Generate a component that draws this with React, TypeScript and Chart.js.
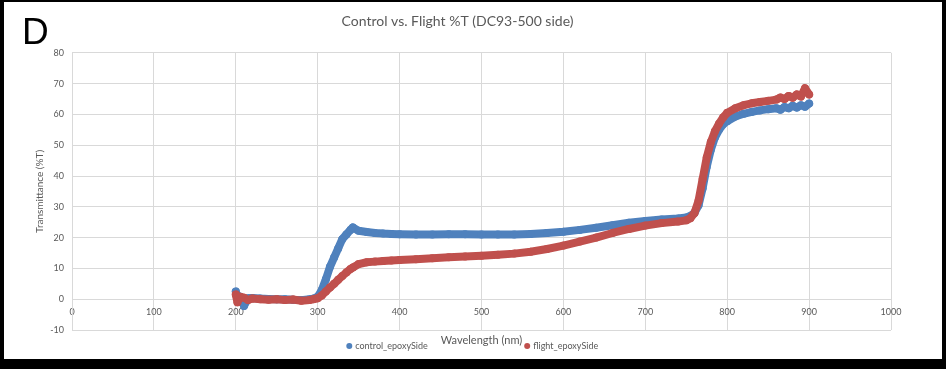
import { useEffect, useRef } from "react";
import { Chart, registerables } from "chart.js";

Chart.register(...registerables);

// ---------- data ----------
const wavelengths = [
  200, 202, 205, 210, 215, 220, 230, 240, 250, 260, 270, 280, 290, 295, 300, 305, 310, 315, 320, 325,
  330, 335, 340, 343, 350, 360, 370, 380, 390, 400, 420, 440, 460, 480, 500, 520, 540, 560, 580, 600,
  620, 640, 660, 680, 700, 720, 740, 750, 755, 760, 765, 770, 775, 780, 785, 790, 795, 800, 810, 820,
  830, 840, 850, 860, 865, 870, 875, 880, 885, 890, 895, 900,
];

const controlValues = [
  2.5, 0.5, 0.8, -2.2, 0.3, 0.4, 0.2, 0.1, 0.0, 0.0, -0.2, -0.3, 0.0, 0.2, 0.8, 3.0, 6.5, 10.5, 13.5, 16.5,
  19.5, 21.0, 22.5, 23.3, 22.2, 21.8, 21.5, 21.3, 21.2, 21.1, 21.0, 21.0, 21.1, 21.1, 21.0, 21.0, 21.0, 21.2, 21.5, 21.9,
  22.5, 23.2, 24.0, 24.8, 25.4, 25.9, 26.2, 26.5, 27.0, 28.0, 30.5, 36.0, 43.0, 48.5, 52.5, 55.0, 56.8, 57.8, 59.3, 60.2,
  60.8, 61.3, 61.7, 62.0, 61.5, 62.4, 62.0, 62.8, 62.2, 63.0, 62.5, 63.5,
];

const flightValues = [
  1.5, -1.0, 0.8, 0.5, -0.3, 0.2, 0.0, -0.2, 0.0, -0.3, -0.1, -0.5, -0.3, 0.0, 0.3, 1.2, 2.5, 3.8, 5.0, 6.3,
  7.5, 8.7, 9.8, 10.3, 11.4, 12.0, 12.2, 12.4, 12.6, 12.7, 13.0, 13.3, 13.6, 13.9, 14.1, 14.4, 14.8, 15.4, 16.3, 17.4,
  18.7, 20.0, 21.5, 22.8, 23.9, 24.7, 25.2, 25.6, 26.3, 28.0, 32.0, 39.0, 46.0, 51.0, 54.5, 57.0, 59.0, 60.5, 62.0, 63.0,
  63.6, 64.0, 64.4, 64.8, 65.5, 65.0, 66.0, 65.4, 66.5, 65.8, 68.5, 66.5,
];

const seriesNames = ["control_epoxySide", "flight_epoxySide"];
const seriesColors = ["#4F81BD", "#C0504D"];

const xTickValues = [0, 100, 200, 300, 400, 500, 600, 700, 800, 900, 1000];
const yTickValues = [-10, 0, 10, 20, 30, 40, 50, 60, 70, 80];

const chartTitle = "Control vs. Flight %T (DC93-500 side)";
const xAxisTitle = "Wavelength (nm)";
const yAxisTitle = "Transmittance (%T)";
const panelLetter = "D";

const FONT = "Lato, 'Open Sans', Arial, sans-serif";
const TEXT_GREY = "#595959";
const GRID_GREY = "#d9d9d9";

const extrasPlugin = {
  id: "extras",
  afterDraw(chart: any) {
    const { ctx, chartArea } = chart;
    ctx.save();
    // panel letter
    ctx.fillStyle = "#000";
    ctx.font = `37px 'Liberation Sans', Arial, sans-serif`;
    ctx.textAlign = "left";
    ctx.textBaseline = "alphabetic";
    ctx.fillText(panelLetter, 18, 42);

    // x axis title
    const cx = (chartArea.left + chartArea.right) / 2;
    const ty = chartArea.bottom + 10;
    ctx.font = `11px ${FONT}`;
    ctx.fillStyle = TEXT_GREY;
    ctx.textAlign = "center";
    ctx.textBaseline = "middle";
    ctx.fillText(xAxisTitle, cx, ty);
    const tw = ctx.measureText(xAxisTitle).width;

    // legend
    const ly = ty + 6;
    ctx.font = `9px ${FONT}`;
    ctx.textAlign = "left";
    const ds = chart.data.datasets;
    const w0 = ctx.measureText(ds[0].label).width;
    const t0 = cx - tw / 2 - 13 - w0;
    ctx.fillStyle = ds[0].backgroundColor;
    ctx.beginPath();
    ctx.arc(t0 - 6, ly, 3, 0, Math.PI * 2);
    ctx.fill();
    ctx.fillStyle = TEXT_GREY;
    ctx.fillText(ds[0].label, t0, ly);

    const d1 = cx + tw / 2 + 5;
    ctx.fillStyle = ds[1].backgroundColor;
    ctx.beginPath();
    ctx.arc(d1, ly, 3, 0, Math.PI * 2);
    ctx.fill();
    ctx.fillStyle = TEXT_GREY;
    ctx.fillText(ds[1].label, d1 + 6, ly);
    ctx.restore();
  },
};

export default function App() {
  const canvasRef = useRef<HTMLCanvasElement | null>(null);

  useEffect(() => {
    if (!canvasRef.current) return;
    const makeData = (vals: number[]) => wavelengths.map((x, i) => ({ x, y: vals[i] }));
    const common = {
      showLine: true,
      borderWidth: 8,
      borderJoinStyle: "round",
      borderCapStyle: "round",
      pointRadius: 4,
      pointBorderWidth: 0,
    };
    const chart = new Chart(canvasRef.current, {
      type: "scatter",
      data: {
        datasets: [
          {
            ...common,
            label: seriesNames[0],
            data: makeData(controlValues),
            backgroundColor: seriesColors[0],
            borderColor: seriesColors[0],
            order: 1,
          },
          {
            ...common,
            label: seriesNames[1],
            data: makeData(flightValues),
            backgroundColor: seriesColors[1],
            borderColor: seriesColors[1],
            order: 0,
          },
        ] as any,
      },
      options: {
        animation: false,
        responsive: true,
        maintainAspectRatio: false,
        layout: { padding: { left: 20, right: 51, top: 0, bottom: 29 } },
        plugins: {
          legend: { display: false },
          tooltip: { enabled: false },
          title: {
            display: true,
            text: chartTitle,
            color: TEXT_GREY,
            font: { family: FONT, size: 14, weight: "normal" },
            padding: { top: 11, bottom: 23 },
          },
        },
        scales: {
          x: {
            type: "linear",
            position: { y: 0 } as any,
            min: xTickValues[0],
            max: xTickValues[xTickValues.length - 1],
            afterBuildTicks: (s: any) => {
              s.ticks = xTickValues.map((v) => ({ value: v }));
            },
            ticks: {
              color: TEXT_GREY,
              font: { family: FONT, size: 9 },
              padding: 7,
              maxRotation: 0,
              autoSkip: false,
              callback: (v: any) => String(v),
            },
            grid: { color: GRID_GREY, drawTicks: false },
            border: { color: GRID_GREY },
          },
          y: {
            type: "linear",
            min: yTickValues[0],
            max: yTickValues[yTickValues.length - 1],
            afterBuildTicks: (s: any) => {
              s.ticks = yTickValues.map((v) => ({ value: v }));
            },
            ticks: {
              color: TEXT_GREY,
              font: { family: FONT, size: 9 },
              padding: 8,
              callback: (v: any) => String(v),
            },
            grid: { color: GRID_GREY, drawTicks: false },
            border: { color: GRID_GREY },
            title: {
              display: true,
              text: yAxisTitle,
              color: TEXT_GREY,
              font: { family: FONT, size: 10 },
              padding: { top: 10, bottom: 0 },
            },
            afterFit: (s: any) => {
              s.width = 48;
            },
          },
        },
      },
      plugins: [extrasPlugin],
    });
    return () => chart.destroy();
  }, []);

  return (
    <div style={{ position: "fixed", left: 0, top: 0, width: 946, height: 369, background: "#000" }}>
      <div style={{ position: "absolute", left: 4, top: 2, width: 938, height: 357, background: "#fff" }}>
        <canvas ref={canvasRef} />
      </div>
    </div>
  );
}
